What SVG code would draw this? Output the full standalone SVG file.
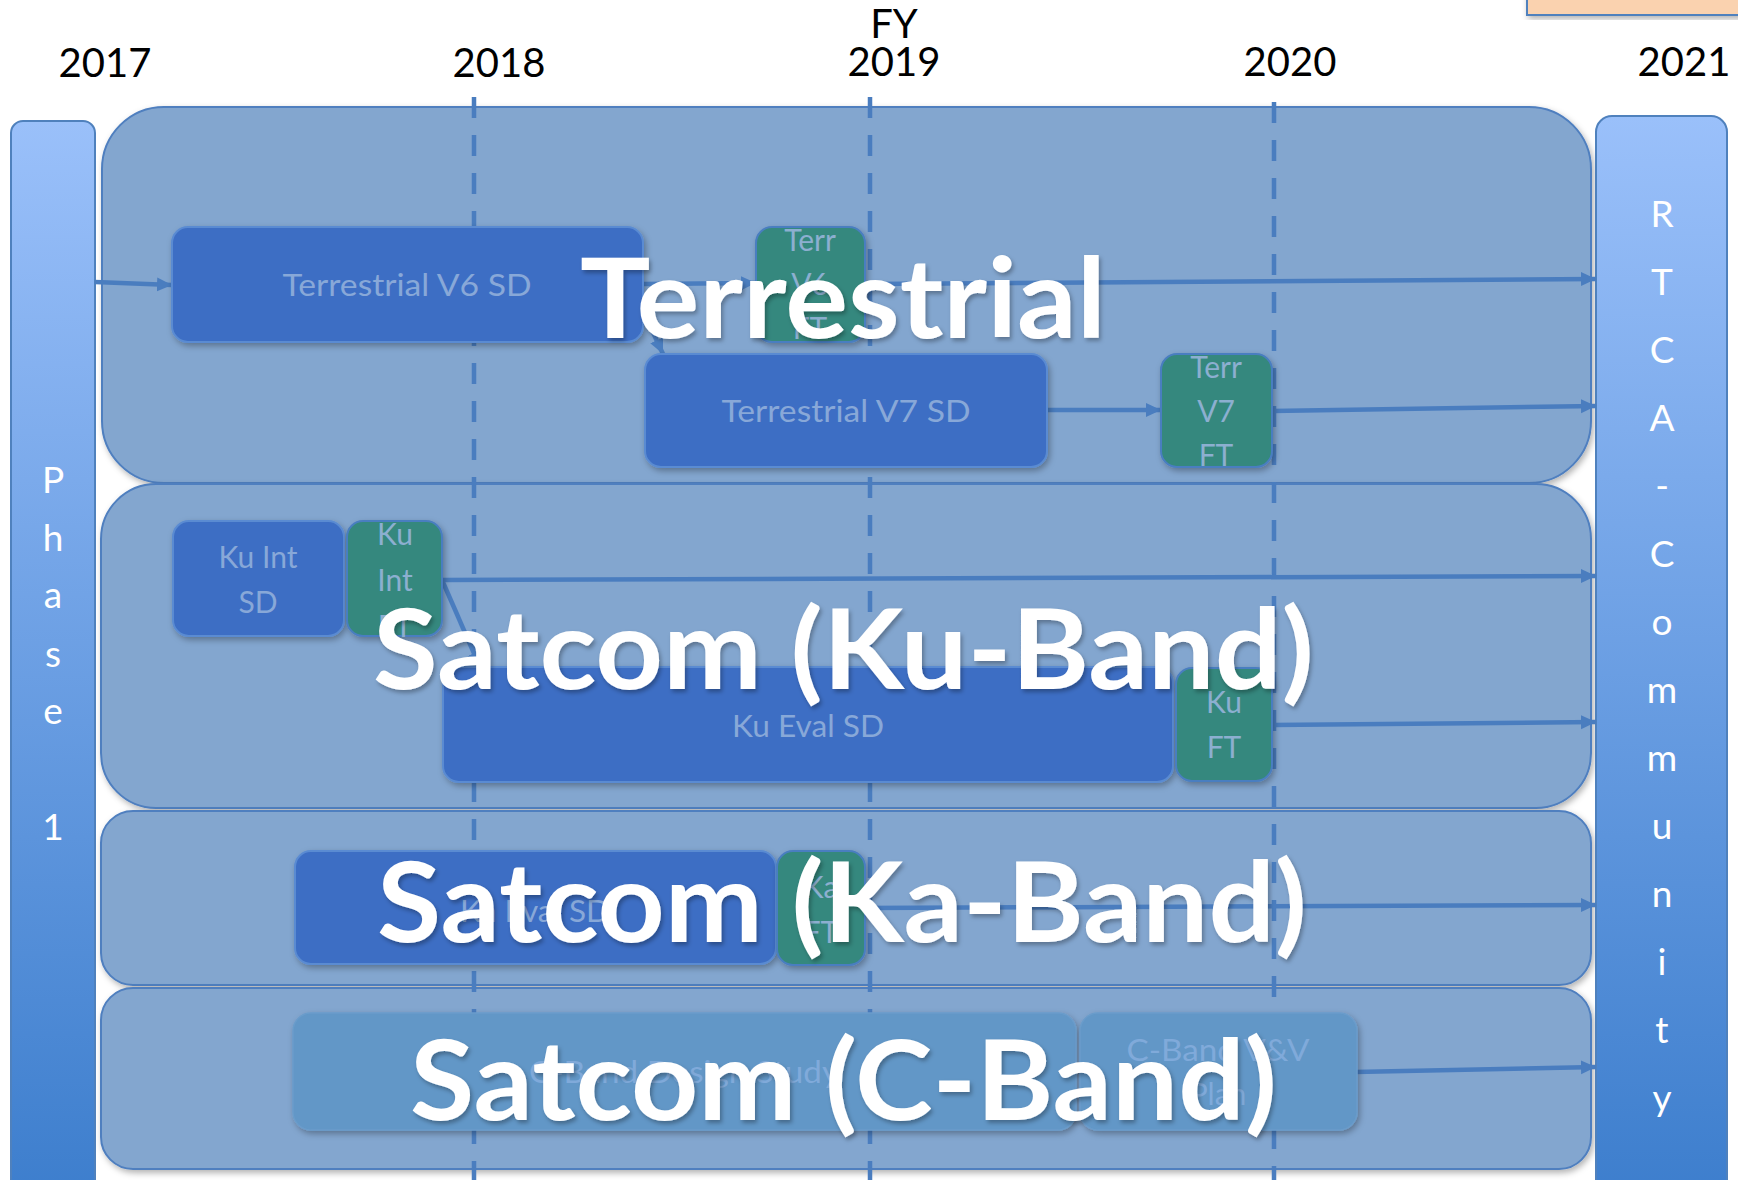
<svg xmlns="http://www.w3.org/2000/svg" width="1738" height="1180" viewBox="0 0 1738 1180">
<defs>
<linearGradient id="barGrad" x1="0" y1="0" x2="0" y2="1">
<stop offset="0" stop-color="#9AC0FA"/>
<stop offset="1" stop-color="#3D7ECD"/>
</linearGradient>
<filter id="sh" x="-5%" y="-5%" width="115%" height="125%">
<feDropShadow dx="2" dy="3" stdDeviation="3" flood-color="#000" flood-opacity="0.3"/>
</filter>
<filter id="tsh" x="-5%" y="-10%" width="115%" height="130%">
<feDropShadow dx="2" dy="3" stdDeviation="2" flood-color="#000" flood-opacity="0.3"/>
</filter>
<marker id="arr" markerUnits="userSpaceOnUse" markerWidth="16" markerHeight="16" refX="15" refY="7" orient="auto">
<path d="M0,0 L15,7 L0,14 z" fill="#4A7DBF"/>
</marker>
<style>
text{font-family:Lato,"Open Sans","Liberation Sans",sans-serif;}
.year{font-size:40px;fill:#000;text-anchor:middle;}
.lane{fill:#83A6CF;stroke:#4F7FBF;stroke-width:2;filter:url(#sh);}
.bar{fill:url(#barGrad);stroke:#4F81BD;stroke-width:2;}
.barTxt{font-size:37px;fill:#fff;text-anchor:middle;}
.dash{stroke:#4A7DBF;stroke-width:4.5;stroke-dasharray:21 17;fill:none;}
.conn{stroke:#4A7DBF;stroke-width:4.5;fill:none;marker-end:url(#arr);}
.line{stroke:#4A7DBF;stroke-width:4.5;fill:none;}
.sd{fill:#3D6EC4;stroke:#5A8BD2;stroke-width:2;filter:url(#sh);}
.ft{fill:#35887E;stroke:#4A7EC0;stroke-width:2;filter:url(#sh);}
.cb{fill:#6297C7;stroke:#6A9CCB;stroke-width:1.5;filter:url(#sh);}
.sdTxt{font-size:30px;fill:#88A8D8;text-anchor:middle;}
.ftTxt{font-size:30px;fill:#8CAFD0;text-anchor:middle;}
.cbTxt{font-size:30px;fill:#80AADA;text-anchor:middle;}
.title{font-size:112px;font-weight:bold;fill:#fff;filter:url(#tsh);}
</style>
</defs>
<rect width="1738" height="1180" fill="#fff"/>

<g id="legend-box">
<rect x="1527" y="-10" width="220" height="25" fill="#FAD2AF" stroke="#4F81BD" stroke-width="2" filter="url(#sh)"/>
</g>

<g id="years">
<text class="year" x="894" y="38">FY</text>
<text class="year" x="105" y="77">2017</text>
<text class="year" x="499" y="77">2018</text>
<text class="year" x="894" y="76">2019</text>
<text class="year" x="1290" y="76">2020</text>
<text class="year" x="1684" y="76">2021</text>
</g>

<g id="lanes">
<rect id="lane-terrestrial" class="lane" x="102" y="107" width="1489" height="376" rx="62" ry="62"/>
<rect id="lane-ku" class="lane" x="101" y="484" width="1490" height="324" rx="55" ry="55"/>
<rect id="lane-ka" class="lane" x="101" y="811" width="1490" height="174" rx="32" ry="32"/>
<rect id="lane-c" class="lane" x="101" y="988" width="1490" height="181" rx="32" ry="32"/>
</g>

<g id="year-lines">
<line class="dash" x1="474" y1="97" x2="474" y2="1180"/>
<line class="dash" x1="870" y1="97" x2="870" y2="1180"/>
<line class="dash" x1="1274" y1="102" x2="1274" y2="1180"/>
</g>

<g id="phase1">
<rect class="bar" x="11" y="121" width="84" height="1075" rx="12" ry="12"/>
<text class="barTxt" x="53" y="493">P</text>
<text class="barTxt" x="53" y="551">h</text>
<text class="barTxt" x="53" y="608">a</text>
<text class="barTxt" x="53" y="667">s</text>
<text class="barTxt" x="53" y="724">e</text>
<text class="barTxt" x="53" y="840">1</text>
</g>

<g id="rtca-community">
<rect class="bar" x="1596" y="116" width="131" height="1080" rx="16" ry="16"/>
<text class="barTxt" x="1662" y="227">R</text>
<text class="barTxt" x="1662" y="295">T</text>
<text class="barTxt" x="1662" y="363">C</text>
<text class="barTxt" x="1662" y="431">A</text>
<text class="barTxt" x="1662" y="499">-</text>
<text class="barTxt" x="1662" y="567">C</text>
<text class="barTxt" x="1662" y="635">o</text>
<text class="barTxt" x="1662" y="703">m</text>
<text class="barTxt" x="1662" y="771">m</text>
<text class="barTxt" x="1662" y="839">u</text>
<text class="barTxt" x="1662" y="907">n</text>
<text class="barTxt" x="1662" y="975">i</text>
<text class="barTxt" x="1662" y="1043">t</text>
<text class="barTxt" x="1662" y="1111">y</text>
</g>

<g id="connectors">
<path class="conn" d="M95,282 L172,285"/>
<path class="conn" d="M643,284 L756,283"/>
<path class="conn" d="M865,284 L1596,279"/>
<path class="conn" d="M650,326 L663,354"/>
<path class="conn" d="M1047,410 L1161,410"/>
<path class="conn" d="M1272,411 L1596,406"/>
<path class="conn" d="M442,580 L1596,576"/>
<path class="conn" d="M442,580 L480,667"/>
<path class="conn" d="M1272,725 L1596,722"/>
<path class="conn" d="M865,908 L1596,905"/>
<path class="conn" d="M1355,1072 L1596,1067"/>
</g>

<g id="terrestrial-v6-sd">
<rect class="sd" x="172" y="227" width="471" height="115" rx="16" ry="16"/>
<text class="sdTxt" x="407" y="296" textLength="249" lengthAdjust="spacingAndGlyphs">Terrestrial V6 SD</text>
</g>
<g id="terr-v6-ft">
<rect class="ft" x="756" y="227" width="109" height="115" rx="16" ry="16"/>
<text class="ftTxt" x="810" y="251">Terr</text>
<text class="ftTxt" x="810" y="295">V6</text>
<text class="ftTxt" x="810" y="339">FT</text>
</g>
<g id="terrestrial-v7-sd">
<rect class="sd" x="645" y="354" width="402" height="113" rx="16" ry="16"/>
<text class="sdTxt" x="846" y="422" textLength="249" lengthAdjust="spacingAndGlyphs">Terrestrial V7 SD</text>
</g>
<g id="terr-v7-ft">
<rect class="ft" x="1161" y="354" width="111" height="113" rx="16" ry="16"/>
<text class="ftTxt" x="1216" y="378">Terr</text>
<text class="ftTxt" x="1216" y="422">V7</text>
<text class="ftTxt" x="1216" y="466">FT</text>
</g>

<g id="ku-int-sd">
<rect class="sd" x="173" y="521" width="171" height="115" rx="16" ry="16"/>
<text class="sdTxt" x="258" y="568">Ku Int</text>
<text class="sdTxt" x="258" y="613">SD</text>
</g>
<g id="ku-int-ft">
<rect class="ft" x="347" y="521" width="95" height="115" rx="16" ry="16"/>
<text class="ftTxt" x="395" y="545">Ku</text>
<text class="ftTxt" x="395" y="591">Int</text>
<text class="ftTxt" x="395" y="637">FT</text>
</g>
<g id="ku-eval-sd">
<rect class="sd" x="443" y="667" width="730" height="115" rx="16" ry="16"/>
<text class="sdTxt" x="808" y="737" textLength="152" lengthAdjust="spacingAndGlyphs">Ku Eval SD</text>
</g>
<g id="ku-ft">
<rect class="ft" x="1176" y="668" width="96" height="113" rx="16" ry="16"/>
<text class="ftTxt" x="1224" y="713">Ku</text>
<text class="ftTxt" x="1224" y="758">FT</text>
</g>

<g id="ka-eval-sd">
<rect class="sd" x="295" y="851" width="481" height="113" rx="16" ry="16"/>
<text class="sdTxt" x="535" y="922" textLength="150" lengthAdjust="spacingAndGlyphs">Ka Eval SD</text>
</g>
<g id="ka-ft">
<rect class="ft" x="777" y="851" width="88" height="114" rx="16" ry="16"/>
<text class="ftTxt" x="821" y="898">Ka</text>
<text class="ftTxt" x="821" y="943">FT</text>
</g>

<g id="c-band-design-study">
<rect class="cb" x="293" y="1013" width="783" height="117" rx="18" ry="18"/>
<text class="cbTxt" x="684" y="1083" textLength="310" lengthAdjust="spacingAndGlyphs">C-Band Design Study</text>
</g>
<g id="c-band-vv-plan">
<rect class="cb" x="1080" y="1013" width="277" height="117" rx="18" ry="18"/>
<text class="cbTxt" x="1218" y="1061" textLength="183" lengthAdjust="spacingAndGlyphs">C-Band V&amp;V</text>
<text class="cbTxt" x="1218" y="1105">Plan</text>
</g>

<g id="lane-titles">
<text id="title-terrestrial" class="title" x="580" y="338" textLength="526" lengthAdjust="spacingAndGlyphs">Terrestrial</text>
<text id="title-ku" class="title" x="373" y="689" textLength="941" lengthAdjust="spacingAndGlyphs">Satcom (Ku-Band)</text>
<text id="title-ka" class="title" x="377" y="942" textLength="930" lengthAdjust="spacingAndGlyphs">Satcom (Ka-Band)</text>
<text id="title-c" class="title" x="410" y="1120" textLength="867" lengthAdjust="spacingAndGlyphs">Satcom (C-Band)</text>
</g>
</svg>
